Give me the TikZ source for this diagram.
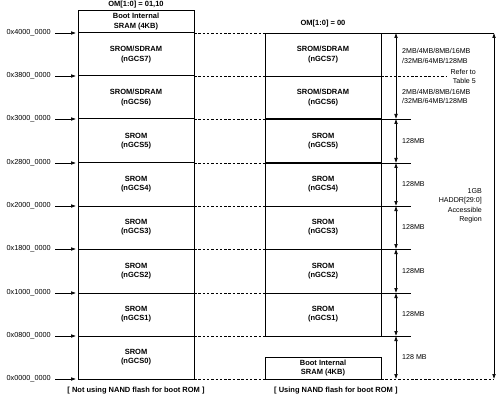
\documentclass[tikz,border=0pt]{standalone}
\usepackage{fontspec}
\setmainfont{Liberation Sans}
\usetikzlibrary{arrows.meta}
\begin{document}
\begin{tikzpicture}[x=1pt,y=-1pt,
  lbl/.style={font=\fontsize{7.5}{9.2}\selectfont\bfseries, align=center, inner sep=0pt},
  addr/.style={font=\fontsize{7.3}{9}\selectfont, anchor=east, inner sep=0pt},
  sz/.style={font=\fontsize{7.1}{9.5}\selectfont, anchor=west, inner sep=0pt, align=left},
  rgt/.style={font=\fontsize{7.1}{9.5}\selectfont, anchor=east, inner sep=0pt, align=right},
  boxline/.style={line width=0.6pt},
  sepline/.style={line width=1pt},
  dashline/.style={line width=0.5pt, dash pattern=on 2.5pt off 1.8pt},
  tip/.style={-{Latex[length=5pt,width=3.6pt]}, line width=0.55pt},
  dbl/.style={{Latex[length=5pt,width=3.6pt]}-{Latex[length=5pt,width=3.6pt]}, line width=0.55pt}
]
\useasboundingbox[fill=white] (0,0) rectangle (500,406);

% level coordinates
\foreach \y/\n in {33/8,76/7,119/6,163/5,206/4,249/3,293/2,336/1,379/0}{
  \coordinate (L\n) at (78,\y);
  \coordinate (M\n) at (194,\y);
  \coordinate (R\n) at (265,\y);
  \coordinate (S\n) at (381,\y);
  \coordinate (A\n) at (396,\y);
}

% titles
\node[lbl] (t1) at (136,5) {OM[1:0] = 01,10};
\node[lbl] (t2) at (323,24) {OM[1:0] = 00};

% left column
\draw[boxline] (78,10) rectangle (194,379);
\foreach \n in {1,...,8}{ \draw[sepline] (L\n) -- (M\n); }
\foreach \y/\a/\n in {33/4000/8,76/3800/7,119/3000/6,163/2800/5,206/2000/4,249/1800/3,293/1000/2,336/0800/1,379/0000/0}{
  \node[addr] (ad\n) at (51,\y) {0x\a\_0000};
  \draw[tip] ([xshift=4pt]ad\n.east) -- ([xshift=-2pt]L\n);
}
\foreach \n in {0,...,8}{ \draw[dashline] (M\n) -- (R\n); }

\node[lbl] (lb) at (136,21.5) {Boot Internal\\SRAM (4KB)};
\node[lbl] (l7) at (136,54.5) {SROM/SDRAM\\(nGCS7)};
\node[lbl] (l6) at (136,97.5) {SROM/SDRAM\\(nGCS6)};
\node[lbl] (l5) at (136,141) {SROM\\(nGCS5)};
\node[lbl] (l4) at (136,184.5) {SROM\\(nGCS4)};
\node[lbl] (l3) at (136,227.5) {SROM\\(nGCS3)};
\node[lbl] (l2) at (136,271) {SROM\\(nGCS2)};
\node[lbl] (l1) at (136,314.5) {SROM\\(nGCS1)};
\node[lbl] (l0) at (136,357.5) {SROM\\(nGCS0)};

% right column
\draw[boxline] (R8) rectangle (S1);
\foreach \n in {2,...,7}{ \draw[boxline] (R\n) -- (S\n); }
\draw[sepline] (R6) -- (S6);
\draw[sepline] (R5) -- (S5);
\draw[sepline] (R3) -- (S3);
\draw[sepline] (R1) -- (S1);
\draw[boxline] (S8) -- (494,33);
\coordinate (G8) at (494,33);
\coordinate (G0) at (494,379);
\draw[dashline] (S7) -- (447,76);
\foreach \n in {1,...,6}{ \draw[boxline] (S\n) -- ++(30,0); }
\draw[dashline] (S0) -- (G0);
\draw[boxline] (265,357) rectangle (S0);

\node[lbl] (r7) at (323,54.5) {SROM/SDRAM\\(nGCS7)};
\node[lbl] (r6) at (323,97.5) {SROM/SDRAM\\(nGCS6)};
\node[lbl] (r5) at (323,141) {SROM\\(nGCS5)};
\node[lbl] (r4) at (323,184.5) {SROM\\(nGCS4)};
\node[lbl] (r3) at (323,227.5) {SROM\\(nGCS3)};
\node[lbl] (r2) at (323,271) {SROM\\(nGCS2)};
\node[lbl] (r1) at (323,314.5) {SROM\\(nGCS1)};
\node[lbl] (rb) at (323,368) {Boot Internal\\SRAM (4KB)};

% size arrows
\draw[dbl] (A8) -- (A6);
\foreach \a/\b in {6/5,5/4,4/3,3/2,2/1,1/0}{ \draw[dbl] (A\a) -- (A\b); }
\draw[dbl] (G8) -- (G0);

\node[sz] (s7) at (402,56) {2MB/4MB/8MB/16MB\\/32MB/64MB/128MB};
\node[sz] (s6) at (402,96.5) {2MB/4MB/8MB/16MB\\/32MB/64MB/128MB};
\node[rgt] (ref) at (476,76.5) {Refer to\\Table 5};
\node[sz] (s5) at (402,141) {128MB};
\node[sz] (s4) at (402,184.5) {128MB};
\node[sz] (s3) at (402,227.5) {128MB};
\node[sz] (s2) at (402,271) {128MB};
\node[sz] (s1) at (402,314.5) {128MB};
\node[sz] (s0) at (402,357) {128 MB};
\node[rgt] (gb) at (482,206) {1GB\\HADDR[29:0]\\Accessible\\Region};

% captions
\node[lbl] (c1) at (136,391) {[ Not using NAND flash for boot ROM ]};
\node[lbl, anchor=west] (c2) at (274,391) {[ Using NAND flash for boot ROM ]};
\end{tikzpicture}
\end{document}
